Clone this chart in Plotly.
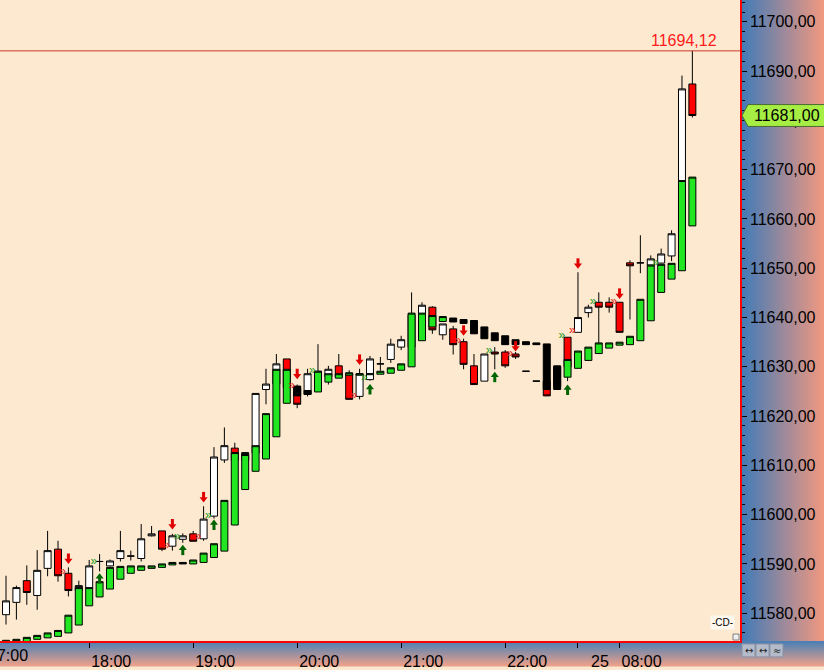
import plotly.graph_objects as go

# ---------------- data (6-minute bars, index = bar number) ----------------
bar_index = list(range(67))

main_open = [11579.7, 11582.2, 11586.6, 11583.6, 11589.1, 11593.0, 11588.1, 11584.6, 11585.0, 11590.5,
             11589.6, 11591.1, 11591.6, 11591.1, 11595.7, 11596.7, 11593.6, 11595.0, 11596.1, 11595.1,
             11599.7, 11611.1, 11613.5, 11611.0, 11612.5, 11625.4, 11626.5, 11631.6, 11625.8, 11624.4,
             11627.8, 11628.0, 11630.2, 11628.6, 11624.0, 11627.4, 11630.6, 11631.5, 11634.0, 11634.0,
             11640.5, 11642.1, 11636.5, 11637.7, 11635.1, 11630.2, 11627.1, 11633.0, 11633.0, 11632.6,
             11629.1, 11627.1, 11627.1, 11626.0, 11636.0, 11637.0, 11641.0, 11643.1, 11643.1, 11643.1,
             11651.1, 11651.1, 11650.65, 11651.05, 11652.5, 11657.0, 11687.4]
main_high = [11587.6, 11585.6, 11589.7, 11592.8, 11596.7, 11594.7, 11589.3, 11586.6, 11590.8, 11592.0,
             11590.9, 11596.7, 11592.7, 11598.1, 11597.7, 11596.7, 11596.1, 11596.2, 11596.7, 11601.7,
             11613.7, 11617.7, 11614.6, 11612.7, 11624.6, 11629.6, 11632.6, 11631.6, 11626.4, 11629.6,
             11634.6, 11630.2, 11632.6, 11629.3, 11629.6, 11632.2, 11632.0, 11635.7, 11636.3, 11645.1,
             11643.1, 11642.3, 11638.7, 11638.3, 11635.7, 11632.6, 11632.6, 11634.0, 11633.4, 11633.0,
             11629.1, 11627.1, 11627.1, 11630.0, 11636.0, 11649.2, 11642.6, 11645.1, 11644.1, 11643.1,
             11651.6, 11656.7, 11652.6, 11654.0, 11657.7, 11689.1, 11694.12]
main_low = [11577.7, 11578.7, 11581.7, 11580.7, 11587.5, 11586.4, 11583.4, 11584.6, 11585.0, 11588.5,
            11589.5, 11590.5, 11590.7, 11590.5, 11595.6, 11592.6, 11592.7, 11594.3, 11594.6, 11594.7,
            11599.2, 11610.5, 11611.0, 11611.0, 11612.5, 11622.4, 11626.5, 11625.8, 11621.6, 11624.0,
            11627.8, 11626.4, 11628.0, 11623.4, 11623.4, 11627.2, 11629.2, 11630.8, 11633.4, 11634.0,
            11640.5, 11636.7, 11635.5, 11632.5, 11629.5, 11626.4, 11627.1, 11629.5, 11629.8, 11631.6,
            11629.1, 11627.1, 11624.1, 11626.0, 11627.1, 11637.0, 11640.0, 11634.85, 11641.0, 11637.0,
            11639.6, 11649.0, 11650.65, 11651.0, 11651.45, 11657.0, 11680.6]
main_close = [11582.5, 11585.2, 11584.2, 11588.7, 11592.7, 11587.6, 11584.6, 11585.6, 11589.6, 11590.5,
              11590.6, 11592.7, 11591.6, 11595.1, 11596.1, 11593.0, 11595.7, 11595.7, 11594.6, 11599.1,
              11611.7, 11614.0, 11611.0, 11612.6, 11624.6, 11626.5, 11630.6, 11625.8, 11622.4, 11628.6,
              11629.1, 11629.5, 11628.0, 11623.4, 11628.6, 11631.6, 11630.6, 11634.6, 11635.5, 11640.5,
              11642.5, 11637.5, 11638.7, 11634.5, 11630.5, 11626.4, 11632.6, 11632.6, 11630.2, 11632.0,
              11629.1, 11627.1, 11624.1, 11630.0, 11630.0, 11640.0, 11642.1, 11642.1, 11642.1, 11637.0,
              11650.5, 11651.1, 11651.9, 11652.9, 11657.0, 11686.4, 11681.0]

# indicator candles (green = rising, black = falling)
ind_open = [11573.8, 11574.0, 11574.2, 11574.7, 11575.0, 11575.3, 11576.0, 11577.6, 11581.5, 11583.3,
            11584.9, 11586.9, 11588.1, 11588.7, 11589.1, 11589.3, 11589.8, 11590.3, 11590.0, 11590.3,
            11591.3, 11592.6, 11597.9, 11605.1, 11608.8, 11611.3, 11615.8, 11622.6, 11626.1, 11625.2,
            11624.9, 11626.9, 11627.7, 11628.3, 11628.3, 11628.4, 11628.5, 11628.7, 11629.3, 11630.0,
            11635.3, 11638.1, 11639.2, 11639.9, 11639.6, 11639.4, 11638.1, 11636.9, 11636.3, 11635.5,
            11635.1, 11634.85, 11634.65, 11630.2, 11627.9, 11629.7, 11631.3, 11632.7, 11633.8, 11634.4,
            11634.5, 11635.3, 11639.35, 11645.1, 11647.8, 11649.5, 11658.6]
ind_close = [11574.5, 11574.7, 11575.1, 11575.5, 11576.0, 11576.5, 11579.6, 11585.2, 11585.2, 11586.4,
             11589.3, 11589.5, 11589.6, 11589.6, 11589.6, 11590.0, 11590.3, 11590.0, 11590.8, 11592.2,
             11594.1, 11602.9, 11612.6, 11612.2, 11614.0, 11620.5, 11629.5, 11629.5, 11624.1, 11624.4,
             11629.1, 11628.6, 11628.6, 11628.8, 11628.6, 11628.6, 11629.1, 11629.8, 11630.6, 11640.9,
             11640.9, 11640.4, 11640.2, 11639.1, 11638.8, 11636.7, 11635.7, 11635.3, 11634.5, 11634.5,
             11634.5, 11634.5, 11625.4, 11625.4, 11631.5, 11633.2, 11634.0, 11634.85, 11634.85, 11635.0,
             11636.2, 11643.7, 11650.65, 11650.8, 11651.0, 11667.8, 11668.5]

# signals
sell_arrow_bars = [6, 16, 19, 28, 34, 44, 49, 55, 59]
sell_arrow_prices = [11590.9, 11597.9, 11603.4, 11628.4, 11631.3, 11637.2, 11634.0, 11650.8, 11644.7]
buy_arrow_bars = [9, 17, 20, 35, 47, 54]
buy_arrow_prices = [11587.2, 11593.0, 11598.1, 11625.6, 11628.1, 11625.5]
green_chevron_bars = [8, 16, 19, 29, 34, 46, 53, 56, 62]
green_chevron_prices = [11590.3, 11595.4, 11599.8, 11629.2, 11627.8, 11633.2, 11636.2, 11643.1, 11651.1]
red_chevron_bars = [5, 15, 18, 27, 33, 43, 48, 54, 58]
red_chevron_prices = [11588.3, 11593.6, 11595.5, 11626.1, 11624.1, 11635.3, 11632.6, 11637.2, 11643.1]

# axis labels
tick_bars = [8, 18, 28, 38, 48, 55, 59]
tick_labels = ["18:00", "19:00", "20:00", "21:00", "22:00", "25", "08:00"]
first_tick_label = "17:00"
y_tick_values = [11580, 11590, 11600, 11610, 11620, 11630, 11640, 11650, 11660, 11670, 11680, 11690, 11700]
y_tick_labels = [f"{v:.2f}".replace(".", ",") for v in y_tick_values]
session_high = 11694.12
last_price = 11681.00

# ---------------- layout geometry ----------------
W, H = 824, 670
PL, PR, PT, PB = 0, 84, 0, 25
PW, PH = W - PL - PR, H - PT - PB
Y_MIN, Y_MAX = 11574.36, 11704.44
X_MIN, X_MAX = -0.577, 70.58
PX = (Y_MAX - Y_MIN) / PH          # price units per pixel
FONT = "Liberation Sans"

def px_x(p):   # pixel -> paper x
    return (p - PL) / PW

def px_y(p):   # pixel -> paper y
    return (PH - (p - PT)) / PH

fig = go.Figure()

fig.add_trace(go.Candlestick(
    x=bar_index, open=main_open, high=main_high, low=main_low, close=main_close,
    increasing=dict(fillcolor="white", line=dict(color="black", width=1)),
    decreasing=dict(fillcolor="#ff0000", line=dict(color="black", width=1)),
    whiskerwidth=0, hoverinfo="skip", showlegend=False))

ind_high = [max(o, c) for o, c in zip(ind_open, ind_close)]
ind_low = [min(o, c) for o, c in zip(ind_open, ind_close)]
fig.add_trace(go.Candlestick(
    x=bar_index, open=ind_open, high=ind_high, low=ind_low, close=ind_close,
    increasing=dict(fillcolor="#22e622", line=dict(color="black", width=1)),
    decreasing=dict(fillcolor="black", line=dict(color="black", width=1)),
    whiskerwidth=0, hoverinfo="skip", showlegend=False))

# sell arrows (red, pointing down)
fig.add_trace(go.Scatter(
    x=sell_arrow_bars, y=[p + 2.5 * PX for p in sell_arrow_prices], mode="markers",
    marker=dict(symbol="line-ns", size=5, line=dict(color="#e00000", width=3)),
    hoverinfo="skip", showlegend=False))
fig.add_trace(go.Scatter(
    x=sell_arrow_bars, y=[p - 1.0 * PX for p in sell_arrow_prices], mode="markers",
    marker=dict(symbol="triangle-down", size=7, color="#e00000", line=dict(width=0)),
    hoverinfo="skip", showlegend=False))
# buy arrows (dark green, pointing up)
fig.add_trace(go.Scatter(
    x=buy_arrow_bars, y=[p - 2.5 * PX for p in buy_arrow_prices], mode="markers",
    marker=dict(symbol="line-ns", size=5, line=dict(color="#006400", width=3)),
    hoverinfo="skip", showlegend=False))
fig.add_trace(go.Scatter(
    x=buy_arrow_bars, y=[p + 1.0 * PX for p in buy_arrow_prices], mode="markers",
    marker=dict(symbol="triangle-up", size=7, color="#006400", line=dict(width=0)),
    hoverinfo="skip", showlegend=False))

# chevrons
fig.add_trace(go.Scatter(
    x=[b + 0.45 for b in green_chevron_bars], y=green_chevron_prices, mode="text",
    text=["»"] * len(green_chevron_bars), textfont=dict(family=FONT, size=12, color="#1a9a1a"),
    hoverinfo="skip", showlegend=False))
fig.add_trace(go.Scatter(
    x=[b + 0.45 for b in red_chevron_bars], y=red_chevron_prices, mode="text",
    text=["»"] * len(red_chevron_bars), textfont=dict(family=FONT, size=12, color="#e02020"),
    hoverinfo="skip", showlegend=False))

shapes = []
# right axis panel gradient (blue -> salmon, horizontal)
c0, c1 = (64, 122, 184), (240, 152, 128)
n_strips = 42
for i in range(n_strips):
    t = i / (n_strips - 1)
    col = tuple(round(a + (b - a) * t) for a, b in zip(c0, c1))
    x0 = PL + PW + i * (PR / n_strips)
    shapes.append(dict(type="rect", xref="paper", yref="paper",
                       x0=px_x(x0), x1=px_x(x0 + PR / n_strips + 0.6), y0=0, y1=1,
                       fillcolor=f"rgb{col}", line=dict(width=0), layer="below"))
# bottom axis panel gradient (blue -> salmon, vertical)
d0, d1 = (74, 128, 182), (234, 160, 138)
for i in range(PB):
    t = i / (PB - 1)
    col = tuple(round(a + (b - a) * t) for a, b in zip(d0, d1))
    y_top = PT + PH + i
    shapes.append(dict(type="rect", xref="paper", yref="paper",
                       x0=0, x1=px_x(W + 2), y0=px_y(y_top + 1.6), y1=px_y(y_top),
                       fillcolor=f"rgb{col}", line=dict(width=0), layer="below"))

# session high line
shapes.append(dict(type="line", xref="paper", yref="y", x0=0, x1=1, y0=session_high, y1=session_high,
                   line=dict(color="#c83a2a", width=1), layer="above"))

# last price tag
hh = 11 * PX
tag_path = (f"M {px_x(742)},{last_price} L {px_x(748)},{last_price + hh} L {px_x(826)},{last_price + hh} "
            f"L {px_x(826)},{last_price - hh} L {px_x(748)},{last_price - hh} Z")
shapes.append(dict(type="path", xref="paper", yref="y", path=tag_path,
                   fillcolor="#a6ee44", line=dict(color="#4a6a30", width=1), layer="above"))

# small buttons bottom-right
for k in range(3):
    bx = 742 + k * 14
    shapes.append(dict(type="rect", xref="paper", yref="paper",
                       x0=px_x(bx), x1=px_x(bx + 13), y0=px_y(661), y1=px_y(648),
                       fillcolor="#b4bccb", line=dict(color="#8a92a2", width=1), layer="above"))
# corner square
shapes.append(dict(type="rect", xref="paper", yref="paper",
                   x0=px_x(733), x1=px_x(739), y0=px_y(644), y1=px_y(638),
                   fillcolor="#f0f0f0", line=dict(color="#808080", width=1), layer="above"))

annotations = [
    dict(text=f"{session_high:.2f}".replace(".", ","), xref="paper", yref="y",
         x=px_x(718), y=session_high, xanchor="right", yanchor="bottom", showarrow=False,
         font=dict(family=FONT, size=16, color="#ff1a1a"), borderpad=0, yshift=1),
    dict(text=f"{last_price:.2f}".replace(".", ","), xref="paper", yref="y",
         x=px_x(787), y=last_price, xanchor="center", yanchor="middle", showarrow=False,
         font=dict(family=FONT, size=16, color="black")),
    dict(text=first_tick_label, xref="paper", yref="paper", x=px_x(8), y=px_y(660),
         xanchor="center", yanchor="middle", showarrow=False,
         font=dict(family=FONT, size=16, color="black")),
    dict(text="-CD-", xref="paper", yref="paper", x=px_x(722), y=px_y(626),
         xanchor="center", yanchor="middle", showarrow=False, bgcolor="#fff8ee",
         font=dict(family=FONT, size=10, color="black"), borderpad=1),
]
for k, sym in enumerate(["↔", "↔", "≈"]):
    annotations.append(dict(text=sym, xref="paper", yref="paper", x=px_x(748.5 + k * 14), y=px_y(654.5),
                            xanchor="center", yanchor="middle", showarrow=False,
                            font=dict(family="DejaVu Sans", size=10, color="#222")))

fig.update_layout(
    width=W, height=H, autosize=False,
    margin=dict(l=PL, r=PR, t=PT, b=PB, pad=0),
    paper_bgcolor="#fce9cf", plot_bgcolor="#fce9cf",
    showlegend=False, hovermode=False,
    boxgap=0.33, boxgroupgap=0,
    shapes=shapes, annotations=annotations,
    font=dict(family=FONT, size=16, color="black"),
    xaxis=dict(range=[X_MIN, X_MAX], rangeslider=dict(visible=False), showgrid=False, zeroline=False,
               tickmode="array", tickvals=tick_bars, ticktext=tick_labels,
               ticks="outside", ticklen=5, tickwidth=1, tickcolor="black",
               showline=True, linecolor="#ff0000", linewidth=1.5,
               tickfont=dict(family=FONT, size=16, color="black"), ticklabelshift=22,
               fixedrange=True),
    yaxis=dict(range=[Y_MIN, Y_MAX], side="right", showgrid=False, zeroline=False,
               tickmode="array", tickvals=y_tick_values, ticktext=y_tick_labels,
               ticks="outside", ticklen=5, tickwidth=1, tickcolor="black",
               minor=dict(ticks="outside", ticklen=3, tickwidth=1, tickcolor="black", dtick=2, tick0=11580),
               showline=True, linecolor="#ff0000", linewidth=1.5,
               tickfont=dict(family=FONT, size=16, color="black"),
               fixedrange=True),
)

fig.write_html("out.html", config=dict(displayModeBar=False),
               post_script="document.body.style.margin='0';document.body.style.overflow='hidden';")
